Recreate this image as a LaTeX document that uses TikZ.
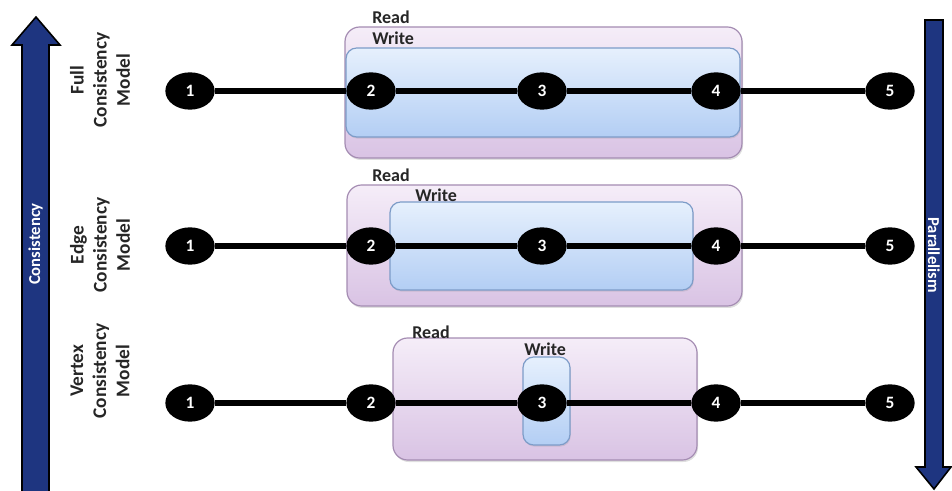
\documentclass[tikz,border=0pt]{standalone}
\usepackage{fontspec}
\setmainfont{Carlito}
\usetikzlibrary{shapes.geometric,shadows}
\definecolor{navy}{HTML}{1E3580}
\definecolor{readtop}{HTML}{F5EDF8}
\definecolor{readbot}{HTML}{D9C3E4}
\definecolor{readline}{HTML}{A48CB2}
\definecolor{writetop}{HTML}{E6F0FD}
\definecolor{writebot}{HTML}{B3CEF4}
\definecolor{writeline}{HTML}{7D9CC8}
\definecolor{txt}{HTML}{262626}
\tikzset{
  px/.style={x=0.75pt,y=-0.75pt},
  readbox/.style={draw=readline, line width=0.9pt, rounded corners=11pt, top color=readtop, bottom color=readbot, drop shadow={opacity=0.25, shadow xshift=0.8pt, shadow yshift=-1.5pt}},
  writebox/.style={draw=writeline, line width=0.9pt, rounded corners=8pt, top color=writetop, bottom color=writebot, drop shadow={opacity=0.2, shadow xshift=0.6pt, shadow yshift=-1.2pt}},
  boxlabel/.style={font=\fontsize{13.5pt}{15pt}\selectfont\bfseries, text=txt, inner sep=0pt, anchor=west},
  pt/.style={ellipse, fill=black, minimum width=37pt, minimum height=28pt, inner sep=0pt, text=white, font=\fontsize{13pt}{15pt}\selectfont\bfseries},
  link/.style={line width=3.8pt, black},
  rowlabel/.style={rotate=90, align=center, font=\fontsize{14.5pt}{17.3pt}\selectfont\bfseries, text=txt},
  bigarrow/.style={fill=navy, draw=black, line width=1.2pt, line join=miter},
  arrowtext/.style={text=white, font=\fontsize{12.5pt}{14pt}\selectfont\bfseries}
}
\begin{document}
\begin{tikzpicture}[px]
\useasboundingbox (0,0) rectangle (952,491);
% big arrows
\draw[bigarrow] (22,491) -- (22,45) -- (12,45) -- (36,17) -- (60,45) -- (49,45) -- (49,491);
\node[arrowtext, rotate=90] (cons) at (35.5,244) {Consistency};
\draw[bigarrow] (925,20) -- (943,20) -- (943,467) -- (951,467) -- (934,489) -- (916,467) -- (925,467) -- cycle;
\node[arrowtext, rotate=-90] (par) at (934,255) {Parallelism};
% row labels
\node[rowlabel] (lfull) at (100,80) {Full\\Consistency\\Model};
\node[rowlabel] (ledge) at (100,245) {Edge\\Consistency\\Model};
\node[rowlabel] (lvert) at (100,371) {Vertex\\Consistency\\Model};
% row 1: full
\path[readbox] (345,27) rectangle (742,158);
\path[writebox] (346,48) rectangle (740,137);
\node[boxlabel] (r1) at (372,17) {Read};
\node[boxlabel] (w1) at (372,38) {Write};
% row 2: edge
\path[readbox] (347,185) rectangle (742,306);
\path[writebox] (390,202) rectangle (693,290);
\node[boxlabel] (r2) at (372,175) {Read};
\node[boxlabel] (w2) at (415,195) {Write};
% row 3: vertex
\path[readbox] (393,338) rectangle (697,460);
\path[writebox] (523,357) rectangle (570,445);
\node[boxlabel] (r3) at (412,332) {Read};
\node[boxlabel] (w3) at (524,349) {Write};
% nodes
\foreach \r/\y in {a/91, b/246, c/403}{
  \node[pt] (\r1) at (190,\y) {1};
  \node[pt] (\r2) at (371,\y) {2};
  \node[pt] (\r3) at (542,\y) {3};
  \node[pt] (\r4) at (716,\y) {4};
  \node[pt] (\r5) at (890,\y) {5};
  \draw[link] (\r1) -- (\r2);
  \draw[link] (\r2) -- (\r3);
  \draw[link] (\r3) -- (\r4);
  \draw[link] (\r4) -- (\r5);
}
\end{tikzpicture}
\end{document}
